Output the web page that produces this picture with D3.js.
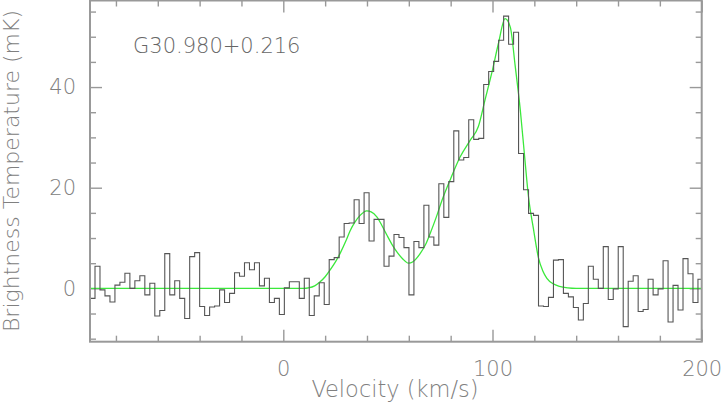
<!DOCTYPE html>
<html>
<head>
<meta charset="utf-8">
<script src="https://cdn.jsdelivr.net/npm/d3@7"></script>
<style>
  html, body { margin: 0; padding: 0; background: #fff; }
  svg { display: block; }
  text { font-family: "DejaVu Sans", sans-serif; font-weight: 200; }
</style>
</head>
<body>
<div id="chart"></div>
<script>
// ---------------- data ----------------
const sourceName = "G30.980+0.216";
const xLabel = "Velocity (km/s)";
const yLabel = "Brightness Temperature (mK)";

// spectrum channels: first channel centre velocity and channel width (km/s)
const firstChannelVelocity = -91.2;
const channelWidth = 2.382;
// brightness temperature (mK) per channel
const brightness = [
  -2.0, 4.4, -0.3, -1.5, -2.7, 0.65, 1.2, 3.0, 0.0, 1.5,
  2.5, -1.3, 1.0, -5.5, -4.4, 6.9, -1.3, 1.5, -2.0, -6.0,
  6.3, 7.1, -3.6, -5.4, -3.7, -3.5, -0.3, -2.8, -1.0, 3.1,
  2.4, 5.1, 3.7, 5.1, 0.5, 2.0, -2.8, -2.0, -5.2, 0.1,
  1.3, 1.3, -2.0, 2.0, -5.4, -1.5, 1.1, -3.2, 5.7, 6.1,
  10.2, 12.9, 13.0, 17.6, 12.9, 19.0, 9.4, 13.7, 13.7, 4.4,
  6.4, 10.7, 10.1, 8.1, -1.3, 9.3, 8.1, 16.5, 10.2, 8.6,
  20.8, 14.1, 21.2, 31.3, 25.5, 26.0, 33.5, 29.6, 29.8, 40.5,
  43.1, 45.1, 49.3, 54.1, 48.5, 50.9, 26.8, 19.6, 14.9, 14.5,
  -3.5, -3.6, -1.8, 5.6, 5.7, -1.0, -1.7, -3.8, -6.3, -3.0,
  4.4, 1.8, 0.0, 8.3, -2.2, -0.1, 8.3, -7.6, 1.4, 2.5,
  -4.6, -4.2, 1.8, -1.3, -0.1, 5.5, -6.7, 0.6, -4.3, 5.9,
  2.9, -2.8, 1.8
];

// Gaussian fit curve
const fitVelocity = [-92.4, 10, 12, 15, 17.6, 20, 22.3, 25, 27.1, 30, 31.9, 34, 36.7, 39.9, 42, 44.7, 47, 49.5, 52, 54.2, 57, 59.8, 62, 65.4, 68, 70.2, 73, 75.7, 80, 84.5, 89.3, 93.2, 96.4, 99.6, 102.8, 106.0, 108.5, 110.9, 113.3, 115.4, 117.2, 119.5, 122, 124, 126, 129, 132, 136, 140, 200];
const fitTemp     = [0, 0, 0.1, 0.5, 1.3, 2.3, 3.6, 5.3, 6.9, 9.5, 11.4, 13.0, 14.5, 15.4, 15.2, 14.2, 12.6, 10.6, 8.7, 7.3, 5.9, 5.0, 5.3, 6.9, 8.7, 10.9, 14.0, 17.3, 21.8, 26.1, 29.4, 32.1, 37.4, 42.7, 48.6, 53.6, 51.9, 44.0, 35.4, 26.0, 18.2, 12.0, 6.0, 3.5, 2.0, 0.9, 0.4, 0.1, 0, 0];

// axis ticks
const xMajorTicks = [0, 100, 200];
const xMinorTicks = [-80, -60, -40, -20, 20, 40, 60, 80, 120, 140, 160, 180];
const yMajorTicks = [0, 20, 40];
const yMinorTicks = [-10, -5, 5, 10, 15, 25, 30, 35, 45, 50, 55];
const xDomain = [-92.4, 200];
const yDomain = [-10.6, 57.2];

// ---------------- chart ----------------
const W = 721, H = 404;
const plot = { left: 90, right: 701.7, top: 0.5, bottom: 341.7 };

const svg = d3.select("#chart").append("svg").attr("width", W).attr("height", H);

const x = d3.scaleLinear().domain(xDomain).range([plot.left, plot.right]);
const y = d3.scaleLinear().domain(yDomain).range([plot.bottom, plot.top]);

svg.append("clipPath").attr("id", "clip")
  .append("rect").attr("x", plot.left).attr("y", plot.top)
  .attr("width", plot.right - plot.left).attr("height", plot.bottom - plot.top);

// axes (ticks on all sides, pointing inward)
const axisColor = "#999";
const labelColor = "#808080";
function styleAxis(g) {
  g.select(".domain").remove();
  g.selectAll(".tick line").attr("stroke", axisColor).attr("stroke-width", 1.4);
  g.selectAll(".tick text").attr("fill", labelColor).style("font-size", "21px");
}
// bottom
svg.append("g").attr("transform", `translate(0,${plot.bottom})`)
  .call(d3.axisBottom(x).tickValues(xMinorTicks).tickSize(-6).tickFormat(""))
  .call(styleAxis);
svg.append("g").attr("transform", `translate(0,${plot.bottom})`)
  .call(d3.axisBottom(x).tickValues(xMajorTicks).tickSize(-12).tickPadding(19).tickFormat(d3.format("d")))
  .call(styleAxis);
// top
svg.append("g").attr("transform", `translate(0,${plot.top})`)
  .call(d3.axisTop(x).tickValues(xMinorTicks).tickSize(-6).tickFormat(""))
  .call(styleAxis);
svg.append("g").attr("transform", `translate(0,${plot.top})`)
  .call(d3.axisTop(x).tickValues(xMajorTicks).tickSize(-12).tickFormat(""))
  .call(styleAxis);
// left
svg.append("g").attr("transform", `translate(${plot.left},0)`)
  .call(d3.axisLeft(y).tickValues(yMinorTicks).tickSize(-6).tickFormat(""))
  .call(styleAxis);
svg.append("g").attr("transform", `translate(${plot.left},0)`)
  .call(d3.axisLeft(y).tickValues(yMajorTicks).tickSize(-12).tickPadding(14).tickFormat(d3.format("d")))
  .call(styleAxis);
// right
svg.append("g").attr("transform", `translate(${plot.right},0)`)
  .call(d3.axisRight(y).tickValues(yMinorTicks).tickSize(-6).tickFormat(""))
  .call(styleAxis);
svg.append("g").attr("transform", `translate(${plot.right},0)`)
  .call(d3.axisRight(y).tickValues(yMajorTicks).tickSize(-12).tickFormat(""))
  .call(styleAxis);

// fit curve
const fitData = fitVelocity.map((v, i) => [v, fitTemp[i]]);
svg.append("path")
  .datum(fitData)
  .attr("clip-path", "url(#clip)")
  .attr("fill", "none")
  .attr("stroke", "#3be83b")
  .attr("stroke-width", 1.3)
  .attr("d", d3.line().x(d => x(d[0])).y(d => y(d[1])).curve(d3.curveMonotoneX));

// histogram spectrum
const steps = [];
brightness.forEach((t, i) => {
  const vc = firstChannelVelocity + i * channelWidth;
  steps.push([vc - channelWidth / 2, t]);
  steps.push([vc + channelWidth / 2, t]);
});
svg.append("path")
  .datum(steps)
  .attr("clip-path", "url(#clip)")
  .attr("fill", "none")
  .attr("stroke", "#555")
  .attr("stroke-width", 1.1)
  .attr("d", d3.line().x(d => x(d[0])).y(d => y(d[1])));

// frame
svg.append("rect")
  .attr("x", plot.left).attr("y", plot.top)
  .attr("width", plot.right - plot.left).attr("height", plot.bottom - plot.top)
  .attr("fill", "none").attr("stroke", axisColor).attr("stroke-width", 2);

// source name
svg.append("text")
  .attr("x", 133).attr("y", 53)
  .attr("fill", "#666")
  .style("font-size", "21px")
  .text(sourceName);

// axis titles
svg.append("text")
  .attr("x", 395).attr("y", 397)
  .attr("text-anchor", "middle")
  .attr("fill", labelColor)
  .style("font-size", "22.5px")
  .text(xLabel);

svg.append("text")
  .attr("transform", `translate(19,171) rotate(-90)`)
  .attr("text-anchor", "middle")
  .attr("fill", labelColor)
  .style("font-size", "22px")
  .text(yLabel);
</script>
</body>
</html>
